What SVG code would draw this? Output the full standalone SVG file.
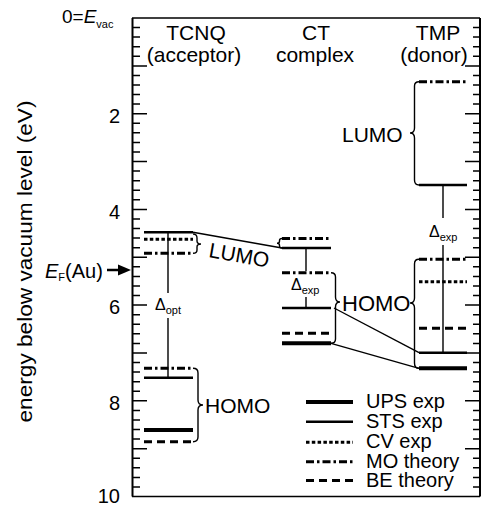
<svg xmlns="http://www.w3.org/2000/svg" width="481" height="507" viewBox="0 0 481 507">
<style>
text{font-family:"Liberation Sans",Arial,sans-serif;fill:#000}
.lv{fill:none;stroke:#000}
.ups{stroke-width:4}
.sts{stroke-width:2.5}
.cv{stroke-width:3;stroke-dasharray:3.5 2.3}
.mo{stroke-width:3;stroke-dasharray:8 3 2.5 3}
.be{stroke-width:3;stroke-dasharray:8 5}
.thin{fill:none;stroke:#000;stroke-width:1.4}
.ax{fill:none;stroke:#000;stroke-width:1.5}
.lbl{font-size:21px}
</style>
<rect width="481" height="507" fill="#fff"/>
<g id="axes">
<path class="ax" d="M132 18H480M132 496.5H480" stroke-width="2"/>
<path class="ax" d="M132.5 18V496.5M480 18V496.5" style="stroke-width:2"/>
<path class="ax" d="M132 27.6h8M132 37.1h8M132 46.7h8M132 56.3h8M132 75.4h8M132 85h8M132 94.6h8M132 104.1h8M132 123.3h8M132 132.8h8M132 142.4h8M132 152h8M132 171.1h8M132 180.7h8M132 190.3h8M132 199.8h8M132 219h8M132 228.5h8M132 238.1h8M132 247.7h8M132 266.8h8M132 276.4h8M132 286h8M132 295.5h8M132 314.7h8M132 324.2h8M132 333.8h8M132 343.4h8M132 362.5h8M132 372.1h8M132 381.7h8M132 391.2h8M132 410.4h8M132 419.9h8M132 429.5h8M132 439.1h8M132 458.2h8M132 467.8h8M132 477.4h8M132 486.9h8"/>
<path class="ax" d="M132 65.9h15M132 113.7h15M132 161.6h15M132 209.4h15M132 257.3h15M132 305.1h15M132 353h15M132 400.8h15M132 448.7h15"/>
<path class="ax" d="M480 27.6h-7M480 37.1h-7M480 46.7h-7M480 56.3h-7M480 75.4h-7M480 85h-7M480 94.6h-7M480 104.1h-7M480 123.3h-7M480 132.8h-7M480 142.4h-7M480 152h-7M480 171.1h-7M480 180.7h-7M480 190.3h-7M480 199.8h-7M480 219h-7M480 228.5h-7M480 238.1h-7M480 247.7h-7M480 266.8h-7M480 276.4h-7M480 286h-7M480 295.5h-7M480 314.7h-7M480 324.2h-7M480 333.8h-7M480 343.4h-7M480 362.5h-7M480 372.1h-7M480 381.7h-7M480 391.2h-7M480 410.4h-7M480 419.9h-7M480 429.5h-7M480 439.1h-7M480 458.2h-7M480 467.8h-7M480 477.4h-7M480 486.9h-7"/>
<path class="ax" d="M480 65.9h-15M480 113.7h-15M480 161.6h-15M480 209.4h-15M480 257.3h-15M480 305.1h-15M480 353h-15M480 400.8h-15M480 448.7h-15"/>
<text x="62" y="23" font-size="19">0=<tspan font-style="italic">E</tspan><tspan font-size="11" dy="5">vac</tspan></text>
<g font-size="20" text-anchor="end">
<text x="120" y="123">2</text>
<text x="120" y="218.5">4</text>
<text x="120" y="314">6</text>
<text x="120" y="410">8</text>
<text x="120" y="503">10</text>
</g>
<text transform="translate(31.5,261.5) rotate(-90)" font-size="21" text-anchor="middle" textLength="322" lengthAdjust="spacingAndGlyphs">energy below vacuum level (eV)</text>
<text x="45" y="278" font-size="20"><tspan font-style="italic">E</tspan><tspan font-size="11" dy="3">F</tspan><tspan dy="-3">(Au)</tspan></text>
<path d="M107 270H120" stroke="#000" stroke-width="2.5"/>
<path d="M118 264.5L131 270L118 275.5Z" fill="#000"/>
</g>
<g id="headers" class="lbl" text-anchor="middle">
<text x="196" y="40">TCNQ</text>
<text x="194" y="62">(acceptor)</text>
<text x="316" y="40">CT</text>
<text x="315" y="62">complex</text>
<text x="438" y="40">TMP</text>
<text x="434" y="62">(donor)</text>
</g>
<g id="tcnq">
<path class="lv sts" d="M144 232.3H193"/>
<path class="lv cv" d="M144 239.3H193"/>
<path class="lv mo" d="M144 253.3H193"/>
<path class="lv mo" d="M144 368.3H193"/>
<path class="lv sts" d="M144 377.7H193"/>
<path class="lv ups" d="M144 430H193"/>
<path class="lv be" d="M144 441.7H193"/>
<path class="thin" d="M193 234Q197 234 197 238V241Q197 244 201 244Q197 244 197 247V250Q197 253.3 193 253.3"/>
<path class="thin" d="M193 368.3Q198 368.3 198 373V400Q198 405 203 405Q198 405 198 410V437Q198 441.7 193 441.7"/>
<path class="thin" d="M168 232.3V293M168 318V377.7"/>
<text x="155" y="310" font-size="16">Δ<tspan font-size="11" dy="4">opt</tspan></text>
<text x="205" y="413" class="lbl">HOMO</text>
</g>
<g id="ct">
<path class="lv mo" d="M282 238.5H331"/>
<path class="lv sts" d="M282 248H331"/>
<path class="lv mo" d="M282 272.7H331"/>
<path class="lv sts" d="M282 308H331"/>
<path class="lv be" d="M282 333.3H331"/>
<path class="lv ups" d="M282 343.3H331"/>
<path class="thin" d="M282 238.5Q279.5 238.5 279.5 240.5V241.3Q279.5 243.3 277 243.3Q279.5 243.3 279.5 245.3V246Q279.5 248 282 248"/>
<path class="thin" d="M331 272.7Q335.5 272.7 335.5 277V297Q335.5 302 340 302Q335.5 302 335.5 307V339Q335.5 343.3 331 343.3"/>
<path class="thin" d="M306 248V271M306 297V308"/>
<text x="291" y="290" font-size="16">Δ<tspan font-size="11" dy="4">exp</tspan></text>
</g>
<g id="tmp">
<path class="lv mo" d="M419 81.7H467"/>
<path class="lv sts" d="M419 185H467"/>
<path class="lv mo" d="M419 259.3H467"/>
<path class="lv cv" d="M419 281.7H467"/>
<path class="lv be" d="M419 328.3H467"/>
<path class="lv sts" d="M419 352.7H467"/>
<path class="lv ups" d="M419 368.3H467"/>
<path class="thin" d="M419 81.7Q414.5 81.7 414.5 86V128Q414.5 133 410 133Q414.5 133 414.5 138V180Q414.5 185 419 185"/>
<path class="thin" d="M419 259.3Q414.5 259.3 414.5 264V298Q414.5 303 410 303Q414.5 303 414.5 308V363Q414.5 368.3 419 368.3"/>
<path class="thin" d="M443 185V218M443 245V352.7"/>
<text x="429" y="237" font-size="16">Δ<tspan font-size="11" dy="4">exp</tspan></text>
<text x="342" y="142" class="lbl">LUMO</text>
</g>
<g id="labels">
<text x="208" y="257" class="lbl" transform="rotate(10 208 257)">LUMO</text>
<text x="342" y="311" font-size="22">HOMO</text>
</g>
<g id="connectors">
<path class="thin" d="M193 232.3L282 248"/>
<path class="thin" d="M334 308L419 352.7"/>
<path class="thin" d="M331 343.3L419 368.3"/>
</g>
<g id="legend" font-size="20">
<path class="lv ups" d="M306 402H353"/>
<path class="lv sts" d="M306 421.7H353"/>
<path class="lv cv" d="M306 442.3H353"/>
<path class="lv mo" d="M306 461.7H353"/>
<path class="lv be" d="M306 480.5H353"/>
<text x="366" y="408">UPS exp</text>
<text x="366" y="427.5">STS exp</text>
<text x="366" y="448">CV exp</text>
<text x="366" y="467.5">MO theory</text>
<text x="366" y="486.5">BE theory</text>
</g>
</svg>
